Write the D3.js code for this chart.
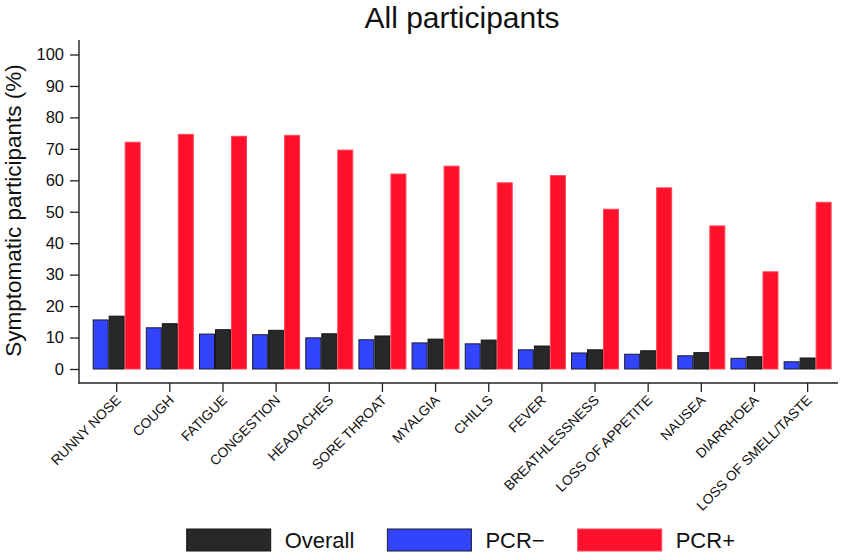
<!DOCTYPE html>
<html>
<head>
<meta charset="utf-8">
<script src="https://cdn.jsdelivr.net/npm/d3@7"></script>
<style>
  html, body { margin: 0; padding: 0; background: #fff; }
  svg { display: block; font-family: "Liberation Sans", Arial, Helvetica, sans-serif; }
</style>
</head>
<body>
<svg id="chart" width="846" height="559"></svg>
<script>
const categories = ["RUNNY NOSE","COUGH","FATIGUE","CONGESTION","HEADACHES","SORE THROAT","MYALGIA","CHILLS","FEVER","BREATHLESSNESS","LOSS OF APPETITE","NAUSEA","DIARRHOEA","LOSS OF SMELL/TASTE"];
const pcrNeg  = [15.6, 13.1, 11.1, 10.9, 9.9, 9.3, 8.3, 8.0, 6.1, 5.1, 4.7, 4.2, 3.4, 2.3];
const overall = [16.8, 14.4, 12.5, 12.3, 11.2, 10.5, 9.5, 9.2, 7.3, 6.1, 5.8, 5.2, 3.9, 3.5];
const pcrPos  = [72.1, 74.6, 74.0, 74.3, 69.6, 62.0, 64.5, 59.2, 61.5, 50.8, 57.6, 45.5, 30.9, 53.0];
const yTicks  = [0,10,20,30,40,50,60,70,80,90,100];
const seriesNames = ["PCR\u2212","Overall","PCR+"];
const legendOrder = ["Overall","PCR\u2212","PCR+"];
const colors = {"Overall":"#262829","PCR\u2212":"#3344FF","PCR+":"#FF112B"};
const strokes = {"Overall":"#151515","PCR\u2212":"#1a1a2a","PCR+":"#FF4455"};

const seriesData = {"PCR\u2212": pcrNeg, "Overall": overall, "PCR+": pcrPos};

const svg = d3.select("#chart");
const y = d3.scaleLinear().domain([0,100]).range([369, 54.5]);
const x = d3.scaleBand().domain(categories).range([90.1, 834.2]).paddingInner(0.097).paddingOuter(0.0485);
const xs = d3.scaleBand().domain(seriesNames).range([0, x.bandwidth()]);

// title
svg.append("text").attr("x", 462).attr("y", 28).attr("text-anchor","middle")
  .attr("font-size", 30).attr("fill","#111").text("All participants");

// y label
svg.append("text").attr("transform","translate(21,210.5) rotate(-90)")
  .attr("text-anchor","middle").attr("font-size", 22.5).attr("fill","#111")
  .text("Symptomatic participants (%)");

// bars
const groups = svg.append("g").selectAll("g").data(categories).join("g")
  .attr("transform", d => `translate(${x(d)},0)`);
groups.selectAll("rect").data((d,i) => seriesNames.map(s => ({s, v: seriesData[s][i]}))).join("rect")
  .attr("x", d => xs(d.s)+0.5).attr("width", xs.bandwidth()-1)
  .attr("y", d => y(d.v)).attr("height", d => y(0) - y(d.v))
  .attr("fill", d => colors[d.s]).attr("stroke", d => strokes[d.s]).attr("stroke-width", 1);

// y axis
const yAxis = svg.append("g").attr("transform","translate(79,0)")
  .call(d3.axisLeft(y).tickValues(yTicks).tickSize(9).tickPadding(6).tickSizeOuter(0));
yAxis.select(".domain").remove();
yAxis.selectAll("text").attr("font-size", 16.5).attr("fill","#111").attr("font-family","Liberation Sans, Arial, sans-serif");
yAxis.selectAll("line").attr("stroke","#222").attr("stroke-width",1.3);
svg.append("line").attr("x1",79).attr("x2",79).attr("y1",40).attr("y2",383.5)
  .attr("stroke","#222").attr("stroke-width",1.4);

// x axis
svg.append("line").attr("x1",78.3).attr("x2",838).attr("y1",383).attr("y2",383)
  .attr("stroke","#222").attr("stroke-width",1.4);
const xAxis = svg.append("g").attr("transform","translate(0,383)")
  .call(d3.axisBottom(x).tickSize(9).tickSizeOuter(0));
xAxis.select(".domain").remove();
xAxis.selectAll("line").attr("stroke","#222").attr("stroke-width",1.3);
xAxis.selectAll("text")
  .attr("font-size", 13.8).attr("fill","#111").attr("font-family","Liberation Sans, Arial, sans-serif")
  .attr("text-anchor","end").attr("dy", 0).attr("y", 0)
  .attr("transform", "translate(5,18) rotate(-45)");

// legend
const legend = svg.append("g").attr("transform","translate(186.7,529)");
let cursor = 0;
legendOrder.forEach(name => {
  const g = legend.append("g").attr("transform", `translate(${cursor},0)`);
  g.append("rect").attr("width",84).attr("height",22)
    .attr("fill", colors[name]).attr("stroke", strokes[name]).attr("stroke-width",1);
  const t = g.append("text").attr("x",98).attr("y",19).attr("font-size",22).attr("fill","#111").text(name);
  cursor += 98 + t.node().getComputedTextLength() + 33;
});
</script>
</body>
</html>
